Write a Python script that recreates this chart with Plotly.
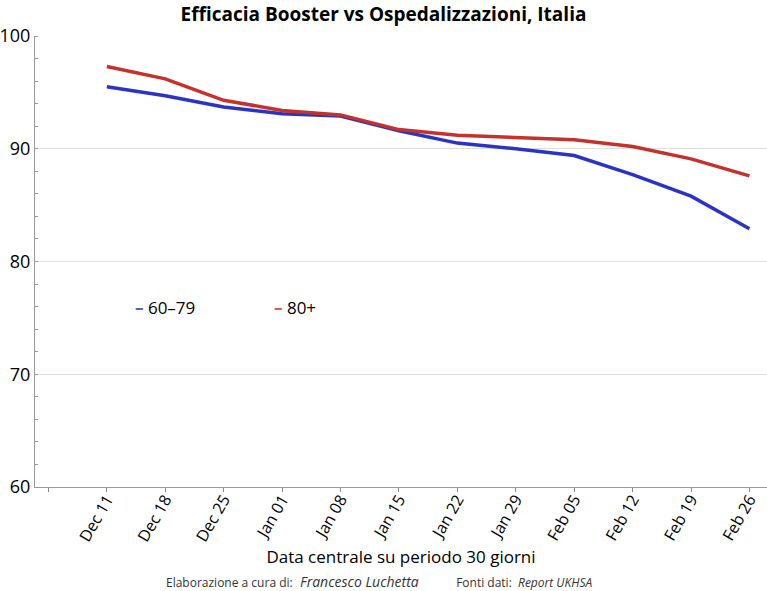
import plotly.graph_objects as go

dates = ["Dec 11", "Dec 18", "Dec 25", "Jan 01", "Jan 08", "Jan 15",
         "Jan 22", "Jan 29", "Feb 05", "Feb 12", "Feb 19", "Feb 26"]
eff_60_79 = [95.5, 94.7, 93.7, 93.1, 92.9, 91.6, 90.5, 90.0, 89.4, 87.7, 85.8, 82.9]
eff_80p = [97.3, 96.2, 94.3, 93.4, 93.0, 91.7, 91.2, 91.0, 90.8, 90.2, 89.1, 87.6]
y_ticks = [60, 70, 80, 90, 100]

idx = list(range(len(dates)))
BLUE = "#2b33c3"
RED = "#c3322c"
FONT = "Open Sans"

fig = go.Figure()
fig.add_trace(go.Scatter(x=idx, y=eff_60_79, mode="lines", name="60–79",
                         line=dict(color=BLUE, width=3.5)))
fig.add_trace(go.Scatter(x=idx, y=eff_80p, mode="lines", name="80+",
                         line=dict(color=RED, width=3.5)))

fig.update_layout(
    width=767, height=591,
    margin=dict(l=33, r=0, t=36, b=104),
    paper_bgcolor="white", plot_bgcolor="white",
    showlegend=False,
    font=dict(family=FONT, color="black"),
    title=dict(text="<b>Efficacia Booster vs Ospedalizzazioni, Italia</b>",
               x=0.5, xanchor="center", y=1 - 14 / 591, yanchor="middle",
               font=dict(size=19, family=FONT, color="black")),
)

fig.update_xaxes(
    range=[-1.23, 11.3],
    tickvals=[-1] + idx, ticktext=[""] + dates,
    tickangle=-60, tickfont=dict(size=16, family=FONT),
    ticks="outside", ticklen=4, tickcolor="#888",
    ticklabelstandoff=-8,
    showline=True, linecolor="#999", linewidth=1,
    showgrid=False, zeroline=False,
    title=dict(text="Data centrale su periodo 30 giorni",
               font=dict(size=17, family=FONT), standoff=6),
)
fig.update_yaxes(
    range=[60, 100],
    tickvals=y_ticks, tickfont=dict(size=18, family=FONT),
    ticks="outside", ticklen=0,
    showline=True, linecolor="#999", linewidth=1,
    showgrid=True, gridcolor="#dedede", gridwidth=1,
    zeroline=False,
    minor=dict(dtick=2, ticks="inside", ticklen=3, tickcolor="#999", showgrid=False),
)

# legend as annotations
fig.add_annotation(xref="paper", yref="paper", x=(131 - 33) / 734, y=(487 - 308) / 451,
                   xanchor="left", yanchor="middle", showarrow=False,
                   text="<span style='color:#5560d0'><b>–</b></span> 60–79",
                   font=dict(size=17, family=FONT))
fig.add_annotation(xref="paper", yref="paper", x=(271 - 33) / 734, y=(487 - 308) / 451,
                   xanchor="left", yanchor="middle", showarrow=False,
                   text="<span style='color:#d06058'><b>–</b></span> 80+",
                   font=dict(size=17, family=FONT))

# footer
fig.add_annotation(xref="paper", yref="paper", x=(378 - 33) / 734, y=-(581 - 487) / 451,
                   xanchor="center", yanchor="middle", showarrow=False,
                   text=("<span style='font-size:12px'>Elaborazione a cura di:</span>  "
                         "<i>Francesco Luchetta</i>"
                         "<span style='font-size:12px'>            Fonti dati:  <i>Report UKHSA</i></span>"),
                   font=dict(size=14, family=FONT, color="#333"))

fig.write_html("out.html")
